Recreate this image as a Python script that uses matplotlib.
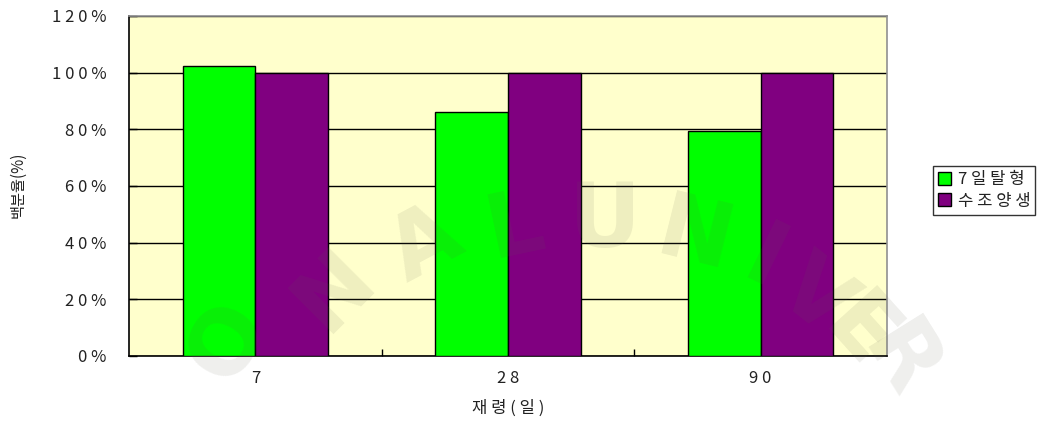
import matplotlib
matplotlib.use("Agg")
import matplotlib.pyplot as plt
import numpy as np
from matplotlib.ticker import FixedLocator

plt.rcParams['font.family'] = ['Noto Sans CJK KR', 'DejaVu Sans']

categories = ["7", "28", "90"]
series_names = ["7일탈형", "수조양생"]
demold_7d = [102.5, 86.0, 79.5]
water_cured = [100.0, 100.0, 100.0]
y_ticks = [0, 20, 40, 60, 80, 100, 120]
x_title = "재령(일)"
y_title = "백분율(%)"
watermark = "ONALUNIVER"


def spaced(s):
    return " ".join(s)


fig = plt.figure(figsize=(10.6, 4.25), dpi=100)
ax = fig.add_axes([0.1217, 0.1624, 0.7151, 0.8000])
ax.set_facecolor("#FFFFCC")

x = np.arange(len(categories))
w = 0.287
ax.bar(x - w / 2, demold_7d, w, color="#00FF00", edgecolor="black",
       linewidth=1.0, label=spaced(series_names[0]), zorder=3)
ax.bar(x + w / 2, water_cured, w, color="#800080", edgecolor="black",
       linewidth=1.0, label=spaced(series_names[1]), zorder=3)

ax.set_xlim(-0.5, len(categories) - 0.5)
ax.set_ylim(0, 120)
ax.set_yticks(y_ticks)
ax.set_yticklabels([spaced(f"{v}%") for v in y_ticks], fontsize=12,
                   color="#222222")
ax.yaxis.grid(True, color="black", linewidth=1.0, zorder=1)
ax.set_axisbelow(True)

ax.set_xticks(x)
ax.set_xticklabels([spaced(c) for c in categories], fontsize=12,
                   color="#222222")
ax.xaxis.set_minor_locator(FixedLocator([0.5, 1.5]))
ax.tick_params(axis="x", which="major", length=0, pad=10)
ax.tick_params(axis="x", which="minor", direction="in", length=5, width=1)
ax.tick_params(axis="y", direction="in", length=6, width=1, pad=16)

for side in ("left", "bottom"):
    ax.spines[side].set_color("black")
    ax.spines[side].set_linewidth(1.2)
for side in ("top", "right"):
    ax.spines[side].set_color("#909090")
    ax.spines[side].set_linewidth(1.2)

ax.set_xlabel(spaced(x_title), fontsize=12, labelpad=9, color="#222222")
fig.text(0.017, 0.565, y_title, rotation=90, fontsize=11,
         ha="center", va="center", color="#222222")

leg = fig.legend(loc="upper left", bbox_to_anchor=(0.872, 0.628),
                 fontsize=12, frameon=True, fancybox=False,
                 handlelength=0.8, handleheight=0.8, handletextpad=0.4,
                 borderpad=0.3, labelspacing=0.25)
leg.get_frame().set_edgecolor("black")
leg.get_frame().set_linewidth(1.0)
for t in leg.get_texts():
    t.set_color("#222222")

# faint arched watermark lettering
wm_pos = [(228, 342, 60), (335, 290, 45), (425, 245, 28), (515, 228, 12),
          (605, 222, 0), (695, 238, -14), (765, 262, -26), (815, 298, -38),
          (858, 334, -48), (898, 362, -58)]
for ch, (px, py, rot) in zip(watermark, wm_pos):
    fig.text(px / 1060, 1 - py / 425, ch, fontsize=64, fontweight="bold",
             color="#606050", alpha=0.10, rotation=rot,
             ha="center", va="center", family="DejaVu Sans", zorder=10)

fig.savefig("out.png", dpi=100)
